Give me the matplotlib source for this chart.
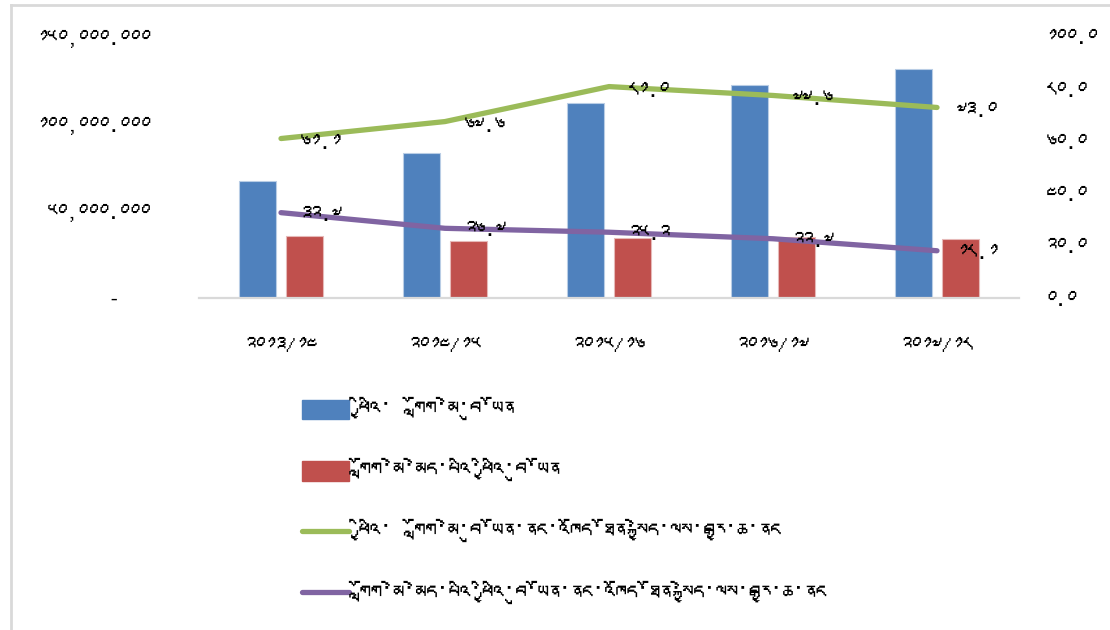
import matplotlib
matplotlib.use("Agg")
import matplotlib.pyplot as plt, numpy as np
from matplotlib import font_manager
from matplotlib.ft2font import FT2Font
from matplotlib.patches import Patch
from matplotlib.lines import Line2D

# data (left axis values as displayed: thousands, right axis in percent)
years = ["༢༠༡༣/༡༤", "༢༠༡༤/༡༥", "༢༠༡༥/༡༦", "༢༠༡༦/༡༧", "༢༠༡༧/༡༨"]
fdi_total = [67200, 83200, 111900, 122200, 131400]
fdi_nonelec = [35600, 32600, 34300, 35200, 33700]
pct_total = [61.1, 67.6, 81.0, 77.6, 73.0]
pct_nonelec = [32.7, 26.7, 25.2, 22.7, 18.1]
left_ticks = [0, 50000, 100000, 150000]
right_ticks = [0, 20, 40, 60, 80, 100]
names = ["ཕྱིའི་  གློག་མེ་བུ་ཡོན",
         "གློག་མེ་མེད་པའི་ཕྱིའི་བུ་ཡོན",
         "ཕྱིའི་  གློག་མེ་བུ་ཡོན་ནང་འཁོད་ཐོན་སྐྱེད་ལས་བརྒྱ་ཆ་ནང",
         "གློག་མེ་མེད་པའི་ཕྱིའི་བུ་ཡོན་ནང་འཁོད་ཐོན་སྐྱེད་ལས་བརྒྱ་ཆ་ནང"]

TIB = str.maketrans("0123456789", "༠༡༢༣༤༥༦༧༨༩")

# look for any installed font that has Tibetan glyphs
tib_font = None
for f in font_manager.fontManager.ttflist:
    try:
        if 0x0F40 in FT2Font(f.fname).get_charmap():
            tib_font = f.name
            break
    except Exception:
        pass
plt.rcParams["font.family"] = ([tib_font] if tib_font else []) + ["DejaVu Sans"]

blue, red, green, purple = "#4F81BD", "#C0504D", "#9BBB59", "#8064A2"
fs = 15

fig = plt.figure(figsize=(11.1, 6.3), dpi=100)
ax = fig.add_axes([199/1110, 1-298/630, 820/1110, 261/630])
x = np.arange(len(years))
w = 0.225
ax.bar(x-0.143, fdi_total, w, color=blue, edgecolor="#B9CDE5", linewidth=0.8)
ax.bar(x+0.143, fdi_nonelec, w, color=red, edgecolor="#E6B9B8", linewidth=0.8)
ax.set_xlim(-0.5, len(years)-0.5); ax.set_ylim(0, 150000)
ax.set_xticks(x); ax.set_xticklabels(years, fontsize=fs)
ax.set_yticks(left_ticks)
ax.set_yticklabels([("-   " if v == 0 else f"{v:,.3f}".translate(TIB)) for v in left_ticks], fontsize=fs)
ax.tick_params(axis="y", length=0, pad=35)
ax.tick_params(axis="x", length=0, pad=28)
for s in ["top", "left", "right"]:
    ax.spines[s].set_visible(False)
ax.spines["bottom"].set_color("#D9D9D9"); ax.spines["bottom"].set_linewidth(1.6)

ax2 = ax.twinx()
ax2.set_ylim(0, 100)
ax2.plot(x, pct_total, color=green, lw=3.8, solid_capstyle="round")
ax2.plot(x, pct_nonelec, color=purple, lw=3.8, solid_capstyle="round")
for xi, v in zip(x, pct_total):
    ax2.annotate(f"{v:.1f}".translate(TIB), (xi, v), xytext=(19, -4), textcoords="offset pixels",
                 ha="left", va="center", fontsize=fs)
for xi, v in zip(x, pct_nonelec):
    ax2.annotate(f"{v:.1f}".translate(TIB), (xi, v), xytext=(19, -2), textcoords="offset pixels",
                 ha="left", va="center", fontsize=fs)
ax2.set_yticks(right_ticks)
ax2.set_yticklabels([f"{v:.1f}".translate(TIB) for v in right_ticks], fontsize=fs)
ax2.tick_params(axis="y", length=0, pad=19)
for s in ax2.spines.values():
    s.set_visible(False)

# chart border (Excel chart area frame)
fig.add_artist(Line2D([11/1110, 11/1110], [0, 1-5/630], transform=fig.transFigure, color="#D9D9D9", lw=2))
fig.add_artist(Line2D([11/1110, 1], [1-5/630, 1-5/630], transform=fig.transFigure, color="#D9D9D9", lw=2))

handles = [Patch(color=blue), Patch(color=red),
           Line2D([], [], color=green, lw=3.8, solid_capstyle="round"),
           Line2D([], [], color=purple, lw=3.8, solid_capstyle="round")]
fig.legend(handles, names, loc="upper left", bbox_to_anchor=(302/1110, 1-397/630), frameon=False,
           fontsize=16, handlelength=2.1, handleheight=1.0, handletextpad=0.45, labelspacing=1.7,
           borderaxespad=0, borderpad=0)

fig.savefig("out.png", dpi=100)
